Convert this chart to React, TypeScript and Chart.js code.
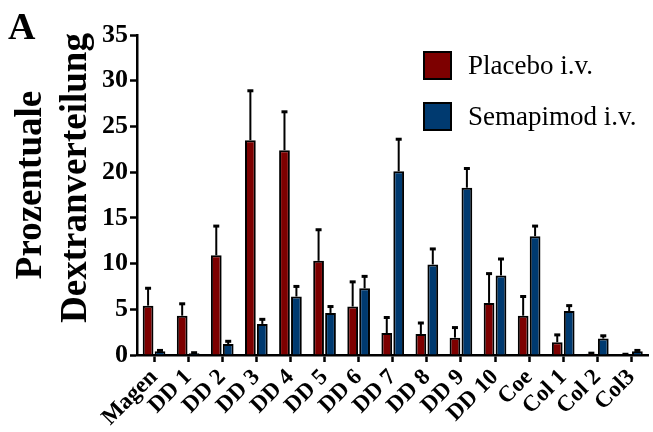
import React, { useEffect, useRef } from 'react';
import { Chart, registerables } from 'chart.js';

Chart.register(...registerables);

const categories = ['Magen', 'DD 1', 'DD 2', 'DD 3', 'DD 4', 'DD 5', 'DD 6', 'DD 7', 'DD 8', 'DD 9', 'DD 10', 'Coe', 'Col 1', 'Col 2', 'Col3'];
const placebo = [5.4, 4.3, 10.9, 23.5, 22.4, 10.3, 5.3, 2.4, 2.3, 1.9, 5.7, 4.3, 1.4, 0.15, 0.05];
const placeboUpper = [7.3, 5.6, 14.1, 28.9, 26.6, 13.7, 8.0, 4.1, 3.5, 3.0, 8.9, 6.4, 2.2, 0.2, 0.08];
const semapimod = [0.4, 0.2, 1.2, 3.4, 6.4, 4.6, 7.3, 20.1, 9.9, 18.3, 8.7, 13.0, 4.8, 1.8, 0.4];
const semapimodUpper = [0.5, 0.25, 1.5, 3.9, 7.5, 5.3, 8.6, 23.6, 11.6, 20.4, 10.5, 14.1, 5.4, 2.1, 0.5];
const yTicks = [0, 5, 10, 15, 20, 25, 30, 35];
const seriesLabels = ['Placebo i.v.', 'Semapimod i.v.'];
const seriesColors = ['#7d0000', '#003a70'];
const yTitleLines = ['Prozentuale', 'Dextranverteilung'];
const panelLabel = 'A';

const SERIF = '"Liberation Serif", "Times New Roman", serif';

const errorBarsPlugin = {
  id: 'errorBars',
  afterDatasetsDraw(chart: any) {
    const ctx = chart.ctx;
    const yScale = chart.scales.y;
    [placeboUpper, semapimodUpper].forEach((uppers, di) => {
      const meta = chart.getDatasetMeta(di);
      meta.data.forEach((bar: any, i: number) => {
        const x = bar.x;
        const top = bar.y;
        const e = yScale.getPixelForValue(uppers[i]);
        ctx.save();
        ctx.strokeStyle = '#000';
        ctx.lineWidth = 2;
        ctx.beginPath();
        ctx.moveTo(x, top);
        ctx.lineTo(x, e);
        ctx.stroke();
        ctx.lineWidth = 3;
        ctx.beginPath();
        ctx.moveTo(x - 3, e);
        ctx.lineTo(x + 3, e);
        ctx.stroke();
        ctx.restore();
      });
    });
  },
};

const decorPlugin = {
  id: 'decor',
  afterDraw(chart: any) {
    const ctx = chart.ctx;
    const area = chart.chartArea;
    const boxX = area.left + 287;
    const startY = area.top + 17;
    const size = 27;
    const rowGap = 51;
    ctx.save();
    seriesLabels.forEach((label, i) => {
      const y = startY + i * rowGap;
      ctx.fillStyle = seriesColors[i];
      ctx.fillRect(boxX, y, size, size);
      ctx.strokeStyle = '#000';
      ctx.lineWidth = 2;
      ctx.strokeRect(boxX, y, size, size);
      ctx.fillStyle = '#000';
      ctx.font = `27px ${SERIF}`;
      ctx.textBaseline = 'middle';
      ctx.textAlign = 'left';
      ctx.fillText(label, boxX + 44, y + size / 2 + 1);
    });
    // panel letter
    ctx.font = `bold 38px ${SERIF}`;
    ctx.textBaseline = 'alphabetic';
    ctx.textAlign = 'left';
    ctx.fillText(panelLabel, 8, 39);
    // y-axis title (two rotated lines)
    ctx.font = `bold 37px ${SERIF}`;
    ctx.textAlign = 'center';
    const baselines = [41, 86];
    const centers = [area.top + 150, area.top + 143];
    yTitleLines.forEach((line, i) => {
      ctx.save();
      ctx.translate(baselines[i], centers[i]);
      ctx.rotate(-Math.PI / 2);
      ctx.fillText(line, 0, 0);
      ctx.restore();
    });
    ctx.restore();
  },
};

export default function App() {
  const canvasRef = useRef<HTMLCanvasElement | null>(null);

  useEffect(() => {
    if (!canvasRef.current) return;
    const chart = new Chart(canvasRef.current, {
      type: 'bar',
      data: {
        labels: categories,
        datasets: [
          {
            label: seriesLabels[0],
            data: placebo,
            backgroundColor: seriesColors[0],
            borderColor: '#000',
            borderWidth: 2,
            categoryPercentage: 0.7,
            barPercentage: 0.9,
          },
          {
            label: seriesLabels[1],
            data: semapimod,
            backgroundColor: seriesColors[1],
            borderColor: '#000',
            borderWidth: 2,
            categoryPercentage: 0.7,
            barPercentage: 0.9,
          },
        ],
      },
      options: {
        animation: false,
        responsive: true,
        maintainAspectRatio: false,
        layout: { padding: { top: 35, right: 2, left: 0, bottom: 0 } },
        plugins: {
          legend: { display: false },
          tooltip: { enabled: false },
        },
        scales: {
          x: {
            offset: true,
            ticks: {
              color: '#000',
              font: { family: SERIF, weight: 'bold', size: 23 },
              maxRotation: 45,
              minRotation: 45,
              autoSkip: false,
              padding: 2,
            },
            grid: { offset: false, drawOnChartArea: false, tickLength: 7, tickWidth: 2.5, color: '#000' },
            border: { color: '#000', width: 2.5 },
            afterFit(scale: any) {
              scale.height = 77;
            },
          },
          y: {
            min: 0,
            max: 35,
            afterBuildTicks(scale: any) {
              scale.ticks = yTicks.map((v) => ({ value: v }));
            },
            ticks: {
              color: '#000',
              font: { family: SERIF, weight: 'bold', size: 26 },
              padding: 2,
            },
            grid: { drawOnChartArea: false, tickLength: 7, tickWidth: 2.5, color: '#000' },
            border: { color: '#000', width: 2.5 },
            afterFit(scale: any) {
              scale.width = 137;
            },
          },
        },
      },
      plugins: [errorBarsPlugin, decorPlugin],
    });
    return () => chart.destroy();
  }, []);

  return (
    <div style={{ position: 'fixed', left: 0, top: 0, width: 653, height: 432, background: '#fff' }}>
      <canvas ref={canvasRef} />
    </div>
  );
}
